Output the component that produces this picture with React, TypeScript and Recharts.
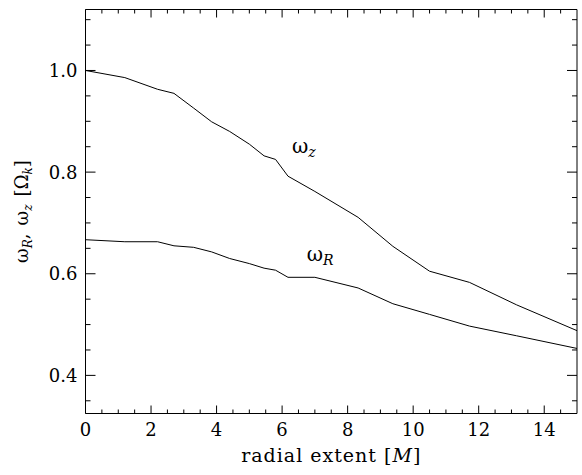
import { LineChart, Line, XAxis, YAxis, ReferenceDot } from 'recharts';

// radial extent [M]
const radius = [0, 1.2, 2.2, 2.7, 3.3, 3.85, 4.4, 5.0, 5.45, 5.8, 6.18, 7.0, 8.32, 9.38, 10.5, 11.72, 13.15, 15];
// vertical epicyclic frequency [Omega_k]
const omegaZ = [1.0, 0.986, 0.963, 0.955, 0.926, 0.899, 0.88, 0.855, 0.832, 0.825, 0.792, 0.762, 0.711, 0.654, 0.605, 0.583, 0.539, 0.488];
// radial epicyclic frequency [Omega_k]
const omegaR = [0.667, 0.663, 0.663, 0.655, 0.652, 0.643, 0.63, 0.62, 0.611, 0.607, 0.593, 0.593, 0.572, 0.541, 0.52, 0.497, 0.478, 0.453];

const xTicks = [0, 0.5, 1, 1.5, 2, 2.5, 3, 3.5, 4, 4.5, 5, 5.5, 6, 6.5, 7, 7.5, 8, 8.5, 9, 9.5, 10, 10.5, 11, 11.5, 12, 12.5, 13, 13.5, 14, 14.5];
const yTicks = [0.35, 0.4, 0.45, 0.5, 0.55, 0.6, 0.65, 0.7, 0.75, 0.8, 0.85, 0.9, 0.95, 1.0, 1.05, 1.1];

const xDomain = [0, 15];
const yDomain = [0.325, 1.12];

const data = radius.map((r, i) => ({ r, wz: omegaZ[i], wr: omegaR[i] }));

const FONT = '"DejaVu Serif", serif';
const INK = '#000';

const isMajorX = (v: number) => Math.abs(v / 2 - Math.round(v / 2)) < 1e-6;
const isMajorY = (v: number) => Math.abs(v * 5 - Math.round(v * 5)) < 1e-6;

function BottomTick({ x, y, payload }: any) {
  const major = isMajorX(payload.value);
  return (
    <g>
      <line x1={x} x2={x} y1={y} y2={y - (major ? 8 : 4)} stroke={INK} strokeWidth={1} />
      {major && (
        <text x={x} y={y + 22} textAnchor="middle" fontFamily={FONT} fontSize={18} fill={INK}>
          {payload.value}
        </text>
      )}
    </g>
  );
}

function TopTick({ x, y, payload }: any) {
  const major = isMajorX(payload.value);
  return <line x1={x} x2={x} y1={y} y2={y + (major ? 8 : 4)} stroke={INK} strokeWidth={1} />;
}

function LeftTick({ x, y, payload }: any) {
  const major = isMajorY(payload.value);
  return (
    <g>
      <line x1={x} x2={x + (major ? 10 : 5)} y1={y} y2={y} stroke={INK} strokeWidth={1} />
      {major && (
        <text x={x - 8} y={y} dy={6.5} textAnchor="end" fontFamily={FONT} fontSize={18} fill={INK}>
          {payload.value.toFixed(1)}
        </text>
      )}
    </g>
  );
}

function RightTick({ x, y, payload }: any) {
  const major = isMajorY(payload.value);
  return <line x1={x} x2={x - (major ? 10 : 5)} y1={y} y2={y} stroke={INK} strokeWidth={1} />;
}

function XTitle({ viewBox }: any) {
  const cx = viewBox.x + viewBox.width / 2;
  return (
    <text x={cx} y={viewBox.y + 48} textAnchor="middle" fontFamily={FONT} fontSize={19} letterSpacing={1} fill={INK}>
      radial extent [<tspan fontStyle="italic">M</tspan>]
    </text>
  );
}

function YTitle({ viewBox }: any) {
  const cy = viewBox.y + viewBox.height / 2;
  const bx = 28;
  return (
    <text
      x={bx}
      y={cy}
      transform={`rotate(-90 ${bx} ${cy})`}
      textAnchor="middle"
      fontFamily={FONT}
      fontSize={18}
      fill={INK}
    >
      ω<tspan fontStyle="italic" fontSize={12} dy={4}>R</tspan>
      <tspan dy={-4}>,</tspan>
      <tspan dx={8}>ω</tspan>
      <tspan fontStyle="italic" fontSize={12} dy={4}>z</tspan>
      <tspan dy={-4} dx={8}>[Ω</tspan>
      <tspan fontStyle="italic" fontSize={12} dy={4}>k</tspan>
      <tspan dy={-4}>]</tspan>
    </text>
  );
}

function curveLabel(sub: string) {
  return ({ viewBox }: any) => (
    <text x={viewBox.x} y={viewBox.y} fontFamily={FONT} fontSize={20} fill={INK}>
      ω<tspan fontStyle="italic" fontSize={14} dy={4}>{sub}</tspan>
    </text>
  );
}

export default function App() {
  return (
    <div style={{ position: 'absolute', left: 0, top: 0, width: 582, height: 475, background: '#fff' }}>
      <LineChart width={582} height={475} data={data} margin={{ top: 8.5, right: 4, bottom: 0, left: 0 }}>
        <XAxis
          dataKey="r"
          type="number"
          domain={xDomain}
          ticks={xTicks}
          interval={0}
          allowDataOverflow
          height={61.5}
          tickSize={0}
          tickMargin={0}
          tickLine={false}
          axisLine={{ stroke: INK, strokeWidth: 1 }}
          tick={<BottomTick />}
          label={{ content: <XTitle /> }}
        />
        <XAxis
          xAxisId="top"
          dataKey="r"
          orientation="top"
          type="number"
          domain={xDomain}
          ticks={xTicks}
          interval={0}
          allowDataOverflow
          height={1}
          tickSize={0}
          tickMargin={0}
          tickLine={false}
          axisLine={{ stroke: INK, strokeWidth: 1 }}
          tick={<TopTick />}
        />
        <YAxis
          type="number"
          domain={yDomain}
          ticks={yTicks}
          interval={0}
          allowDataOverflow
          width={85.5}
          tickSize={0}
          tickMargin={0}
          tickLine={false}
          axisLine={{ stroke: INK, strokeWidth: 1 }}
          tick={<LeftTick />}
          label={{ content: <YTitle /> }}
        />
        <YAxis
          yAxisId="right"
          orientation="right"
          type="number"
          domain={yDomain}
          ticks={yTicks}
          interval={0}
          allowDataOverflow
          width={1}
          tickSize={0}
          tickMargin={0}
          tickLine={false}
          axisLine={{ stroke: INK, strokeWidth: 1 }}
          tick={<RightTick />}
        />
        <Line dataKey="wz" stroke={INK} strokeWidth={1} dot={false} isAnimationActive={false} />
        <Line dataKey="wr" stroke={INK} strokeWidth={1} dot={false} isAnimationActive={false} />
        {/* invisible series so the mirrored top/right axes are drawn */}
        <Line xAxisId="top" yAxisId="right" dataKey="wz" stroke="none" dot={false} activeDot={false} isAnimationActive={false} />
        <ReferenceDot x={6.3} y={0.8375} r={0} fill="none" stroke="none" label={{ content: curveLabel('z') }} />
        <ReferenceDot x={6.75} y={0.626} r={0} fill="none" stroke="none" label={{ content: curveLabel('R') }} />
      </LineChart>
    </div>
  );
}
